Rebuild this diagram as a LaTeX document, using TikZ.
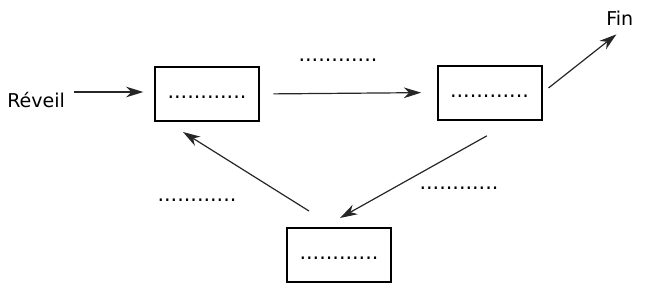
\documentclass[tikz,border=0pt]{standalone}
\usepackage{fontspec}
\setmainfont{DejaVu Sans}
\usetikzlibrary{arrows.meta}

\begin{document}
\begin{tikzpicture}[x=0.75pt, y=-0.75pt,
  font=\fontsize{14.3}{17}\selectfont,
  etat/.style={draw, line width=1.5pt, minimum width=78pt, minimum height=40.5pt,
               font=\fontsize{15.5}{18}\selectfont, text height=9pt, text depth=2.25pt,
               inner sep=0pt},
  pointilles/.style={font=\fontsize{15.5}{18}\selectfont, inner sep=0pt, anchor=base},
  fleche/.style={->, draw=black!85, line width=0.9pt},
  >={Stealth[length=13pt, width=8pt, inset=4pt]}]
  \useasboundingbox (0,0) rectangle (652,298);
  % les trois etats
  \node[etat] (a) at (207,94)   {............};
  \node[etat] (b) at (489.5,92.5) {............};
  \node[etat] (c) at (339,255)  {............};
  % entree et sortie
  \node[anchor=base west, inner sep=0pt] (reveil) at (7,107) {Réveil};
  \node[anchor=base west, inner sep=0pt] (fin) at (606,25) {Fin};
  % etiquettes des transitions
  \node[pointilles] (tab) at (338,61)  {............};
  \node[pointilles] (tca) at (197,201) {............};
  \node[pointilles] (tbc) at (459,189) {............};
  % transitions
  \draw[fleche, shorten <=6.75pt, shorten >=8pt]
    ([yshift=1.5pt]reveil.east |- a.west) -- ([yshift=1.5pt]a.west);
  \draw[fleche, shorten <=10pt, shorten >=11.5pt] (a.east) -- (b.west);
  \draw[fleche] ([xshift=4.5pt,yshift=3.4pt]b.east) -- ([xshift=-2.5pt,yshift=-6.8pt]fin.south);
  \draw[fleche] ([xshift=-2pt,yshift=-11.5pt]b.south) -- ([xshift=0.75pt,yshift=6.75pt]c.north);
  \draw[fleche] ([xshift=-22.5pt,yshift=12pt]c.north) -- ([xshift=-18pt,yshift=-7.5pt]a.south);
\end{tikzpicture}
\end{document}
